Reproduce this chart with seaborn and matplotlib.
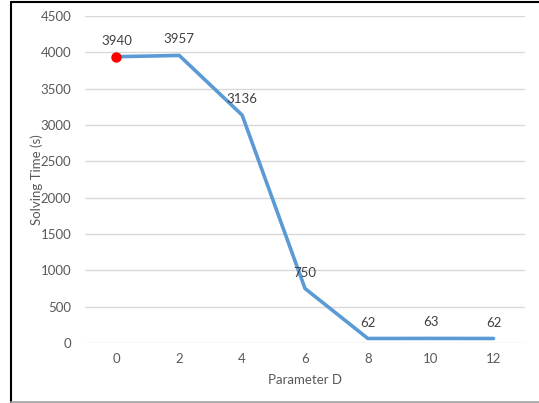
import matplotlib
matplotlib.use("Agg")
import matplotlib.pyplot as plt
import seaborn as sns
import pandas as pd
from matplotlib.lines import Line2D

params = ["0", "2", "4", "6", "8", "10", "12"]
times = [3940, 3957, 3136, 750, 62, 63, 62]
y_ticks = [0, 500, 1000, 1500, 2000, 2500, 3000, 3500, 4000, 4500]

df = pd.DataFrame({"Parameter D": params, "Solving Time (s)": times})

sns.set_theme(style="white")
plt.rcParams["font.family"] = ["Lato", "DejaVu Sans"]

W, H = 539, 403
fig = plt.figure(figsize=(W / 100, H / 100), dpi=100)
ax = fig.add_axes([85 / W, 1 - 343 / H, 440 / W, 327 / H])

sns.lineplot(data=df, x="Parameter D", y="Solving Time (s)", ax=ax,
             color="#5B9BD5", linewidth=2.6, sort=False)
ax.plot([params[0]], [times[0]], "o", color="#FF0000", markersize=6.5, zorder=5)

ax.set_xlim(-0.5, len(params) - 0.5)
ax.set_ylim(0, 4500)
ax.set_yticks(y_ticks)
ax.yaxis.grid(True, color="#D9D9D9", linewidth=1)
ax.set_axisbelow(True)
for s in ax.spines.values():
    s.set_visible(False)
ax.tick_params(axis="both", length=0, labelsize=9.5, labelcolor="#595959")
ax.tick_params(axis="x", pad=7)
ax.tick_params(axis="y", pad=10)

ax.set_xlabel("Parameter D", fontsize=9.5, color="#595959", labelpad=7)
ax.set_ylabel("Solving Time (s)", fontsize=9.5, color="#595959")
ax.yaxis.set_label_coords((43 - 85) / 440, 0.5)

for i, v in enumerate(times):
    ax.annotate(str(v), (i, v), xytext=(0, 11.5), textcoords="offset points",
                ha="center", va="center", fontsize=9.5, color="#404040")

# outer frame like the source screenshot
fig.add_artist(Line2D([10.5 / W, 1.0], [1 - 1.5 / H, 1 - 1.5 / H],
                      transform=fig.transFigure, color="black", linewidth=1.5))
fig.add_artist(Line2D([10.5 / W, 10.5 / W], [1 - 1.5 / H, 1 - 401.5 / H],
                      transform=fig.transFigure, color="black", linewidth=1.5))
fig.add_artist(Line2D([10.5 / W, 1.0], [1 - 401.5 / H, 1 - 401.5 / H],
                      transform=fig.transFigure, color="#A0A0A0", linewidth=1.2))

fig.savefig("out.png", dpi=100)
